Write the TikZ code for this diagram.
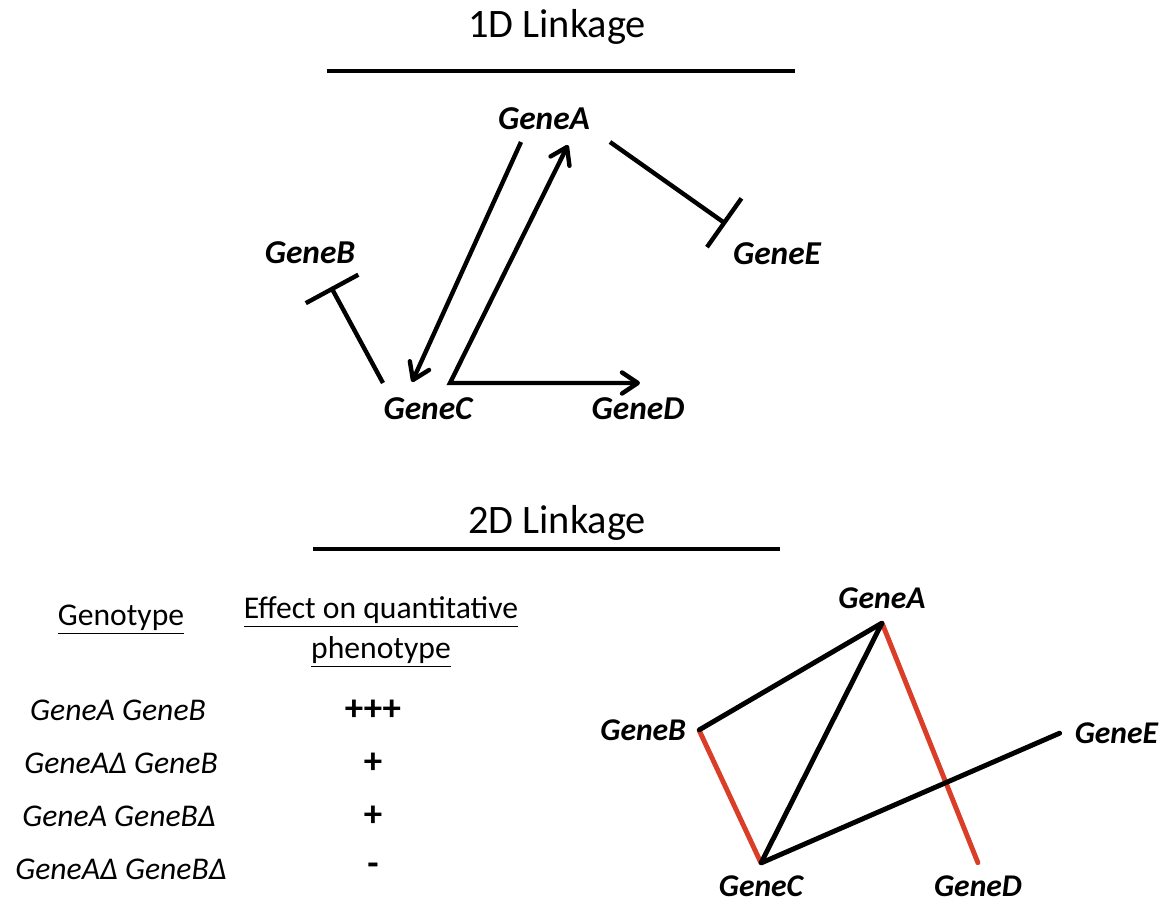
\documentclass[tikz,border=0pt]{standalone}
\usepackage{fontspec}
\setmainfont{Carlito}
\usetikzlibrary{arrows.meta}
\definecolor{linkred}{RGB}{218,62,40}
\tikzset{
  gene/.style={font=\fontsize{19}{23}\selectfont\bfseries\itshape},
  gene2/.style={font=\fontsize{18}{22}\selectfont\bfseries\itshape,inner sep=0pt},
  ttl/.style={font=\fontsize{23}{28}\selectfont},
  tab/.style={font=\fontsize{18}{23}\selectfont},
  val/.style={font=\fontsize{21}{24}\selectfont\bfseries},
  head/.tip={Straight Barb[length=9pt,width=12pt,round]},
  act/.style={line width=2.5pt,{head}-{head}},
  inh/.style={line width=2.5pt,-{Bar[width=34pt]}},
  edge/.style={line width=2.8pt,line cap=round},
  pt/.style={inner sep=0pt,minimum size=0pt},
}
\begin{document}
\begin{tikzpicture}[x=0.2mm,y=-0.2mm]
	\useasboundingbox (0,0) rectangle (1161,903);
	%1D linkage
	\node[ttl] (t1) at (557,27) {1D Linkage};
	\draw[line width=1.8pt] (327,71) -- (795,71);
	\node[gene] (A) at (544,119) {GeneA};
	\node[gene] (B) at (310,253) {GeneB};
	\node[gene] (C) at (428,409) {GeneC};
	\node[gene] (D) at (638,409) {GeneD};
	\node[gene] (E) at (777,254) {GeneE};
	\draw[line width=2.5pt,-{head}] ([shift={(-23,23)}]A.center) -- ([shift={(-16,-27)}]C.center);
	\draw[act] ([shift={(24,26)}]A.center) -- ([shift={(22,-26)}]C.center) -- ([shift={(2,-26)}]D.center);
	\draw[inh] ([shift={(-45,-26)}]C.center) -- ([shift={(21,34)}]B.center);
	\draw[inh] ([shift={(66,23)}]A.center) -- ([shift={(-51,-30)}]E.center);
	%2D linkage
	\node[ttl] (t2) at (557,523) {2D Linkage};
	\draw[line width=1.8pt] (313,549) -- (780,549);
	%table
	\node[tab] (gt) at (121,620) {\underline{Genotype}};
	\node[tab,align=center] (eff) at (381,632) {\underline{Effect on quantitative}\\\underline{phenotype}};
	\node[tab] (r1) at (118,710) {\itshape GeneA GeneB};
	\node[tab] (r2) at (121,763) {\itshape GeneAΔ GeneB};
	\node[tab] (r3) at (119,816) {\itshape GeneA GeneBΔ};
	\node[tab] (r4) at (121,869) {\itshape GeneAΔ GeneBΔ};
	\node[val] (v1) at (373,710) {+++};
	\node[val] (v2) at (373,763) {+};
	\node[val] (v3) at (373,816) {+};
	\node[val] (v4) at (373,869) {-};
	%graph
	\node[pt,label={[gene2,yshift=8pt]above:GeneA}] (a) at (882,623) {};
	\node[pt,label={[gene2,xshift=-7pt]left:GeneB}] (b) at (699,730) {};
	\node[pt,label={[gene2,yshift=-7pt]below:GeneC}] (c) at (761,863) {};
	\node[pt,label={[gene2,yshift=-7pt]below:GeneD}] (d) at (978,863) {};
	\node[pt,label={[gene2,xshift=8pt]right:GeneE}] (e) at (1060,733) {};
	\draw[edge,linkred] (b) -- (c);
	\draw[edge,linkred] (a) -- (d);
	\draw[edge] (a) -- (b);
	\draw[edge] (a) -- (c);
	\draw[edge] (c) -- (e);
\end{tikzpicture}
\end{document}
